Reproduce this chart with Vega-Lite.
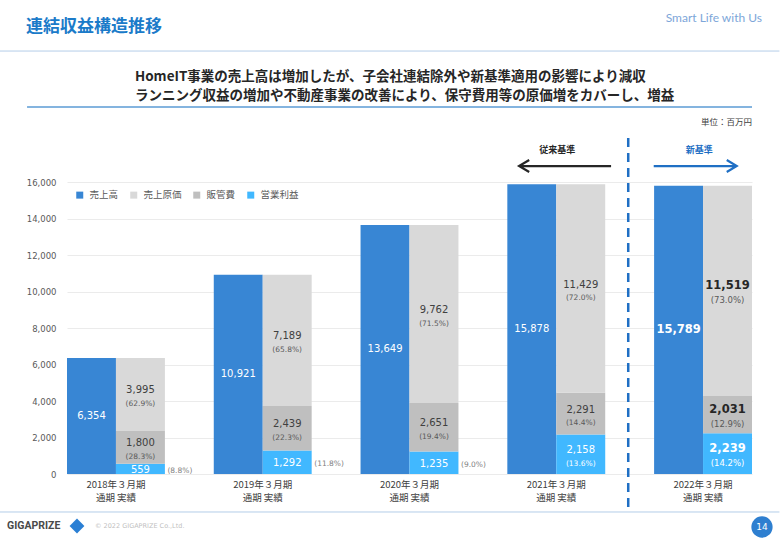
{
  "$schema": "https://vega.github.io/schema/vega-lite/v6.json",
  "width": 685,
  "height": 292,
  "autosize": {"type": "none"},
  "padding": {"left": 67, "top": 182, "right": 28, "bottom": 66},
  "background": "#ffffff",
  "config": {
    "view": {"stroke": null},
    "font": "Noto Sans CJK JP"
  },
  "datasets": {
    "main": [
      {"period": "2018年３月期", "bar": "売上高", "series": "売上高", "value": 6354, "pct": null, "order": 0, "inside": true, "std": "old"},
      {"period": "2018年３月期", "bar": "内訳", "series": "営業利益", "value": 559, "pct": 8.8, "order": 1, "inside": false, "std": "old"},
      {"period": "2018年３月期", "bar": "内訳", "series": "販管費", "value": 1800, "pct": 28.3, "order": 2, "inside": true, "std": "old"},
      {"period": "2018年３月期", "bar": "内訳", "series": "売上原価", "value": 3995, "pct": 62.9, "order": 3, "inside": true, "std": "old"},
      {"period": "2019年３月期", "bar": "売上高", "series": "売上高", "value": 10921, "pct": null, "order": 0, "inside": true, "std": "old"},
      {"period": "2019年３月期", "bar": "内訳", "series": "営業利益", "value": 1292, "pct": 11.8, "order": 1, "inside": false, "std": "old"},
      {"period": "2019年３月期", "bar": "内訳", "series": "販管費", "value": 2439, "pct": 22.3, "order": 2, "inside": true, "std": "old"},
      {"period": "2019年３月期", "bar": "内訳", "series": "売上原価", "value": 7189, "pct": 65.8, "order": 3, "inside": true, "std": "old"},
      {"period": "2020年３月期", "bar": "売上高", "series": "売上高", "value": 13649, "pct": null, "order": 0, "inside": true, "std": "old"},
      {"period": "2020年３月期", "bar": "内訳", "series": "営業利益", "value": 1235, "pct": 9.0, "order": 1, "inside": false, "std": "old"},
      {"period": "2020年３月期", "bar": "内訳", "series": "販管費", "value": 2651, "pct": 19.4, "order": 2, "inside": true, "std": "old"},
      {"period": "2020年３月期", "bar": "内訳", "series": "売上原価", "value": 9762, "pct": 71.5, "order": 3, "inside": true, "std": "old"},
      {"period": "2021年３月期", "bar": "売上高", "series": "売上高", "value": 15878, "pct": null, "order": 0, "inside": true, "std": "old"},
      {"period": "2021年３月期", "bar": "内訳", "series": "営業利益", "value": 2158, "pct": 13.6, "order": 1, "inside": true, "std": "old"},
      {"period": "2021年３月期", "bar": "内訳", "series": "販管費", "value": 2291, "pct": 14.4, "order": 2, "inside": true, "std": "old"},
      {"period": "2021年３月期", "bar": "内訳", "series": "売上原価", "value": 11429, "pct": 72.0, "order": 3, "inside": true, "std": "old"},
      {"period": "2022年３月期", "bar": "売上高", "series": "売上高", "value": 15789, "pct": null, "order": 0, "inside": true, "std": "new"},
      {"period": "2022年３月期", "bar": "内訳", "series": "営業利益", "value": 2239, "pct": 14.2, "order": 1, "inside": true, "std": "new"},
      {"period": "2022年３月期", "bar": "内訳", "series": "販管費", "value": 2031, "pct": 12.9, "order": 2, "inside": true, "std": "new"},
      {"period": "2022年３月期", "bar": "内訳", "series": "売上原価", "value": 11519, "pct": 73.0, "order": 3, "inside": true, "std": "new"}
    ],
    "one": [{}]
  },
  "layer": [
    {
      "data": {"name": "main"},
      "transform": [
        {"stack": "value", "groupby": ["period", "bar"], "sort": [{"field": "order", "order": "ascending"}], "as": ["y0", "y1"]}
      ],
      "mark": {"type": "bar"},
      "encoding": {
        "x": {
          "field": "period", "type": "nominal", "title": null,
          "scale": {"domain": ["2018年３月期", "2019年３月期", "2020年３月期", "2021年３月期", "2022年３月期"], "paddingInner": 0.333, "paddingOuter": 0},
          "axis": {"labelExpr": "[datum.label, '通期 実績']", "labelAngle": 0, "domain": false, "ticks": false, "labelFont": "Noto Sans CJK JP", "labelFontSize": 9.5, "labelColor": "#404040", "labelPadding": 5, "labelLineHeight": 13, "title": null}
        },
        "xOffset": {"field": "bar", "type": "nominal", "scale": {"domain": ["売上高", "内訳"], "paddingInner": 0, "paddingOuter": 0}},
        "y": {
          "field": "y0", "type": "quantitative", "title": null,
          "scale": {"domain": [0, 16000], "nice": false},
          "axis": {"values": [0, 2000, 4000, 6000, 8000, 10000, 12000, 14000, 16000], "labelExpr": "format(datum.value, ',')", "domain": false, "ticks": false, "labelFont": "DejaVu Sans", "labelFontSize": 8.5, "labelColor": "#595959", "labelPadding": 11, "gridColor": "#EBEBEB", "gridWidth": 1, "title": null}
        },
        "y2": {"field": "y1"},
        "color": {
          "field": "series", "type": "nominal",
          "scale": {"domain": ["売上高", "売上原価", "販管費", "営業利益"], "range": ["#3886D4", "#D9D9D9", "#BFBFBF", "#41B8FF"]},
          "legend": {
            "title": null, "orient": "top-left", "direction": "horizontal", "offset": 8,
            "symbolType": "square", "symbolSize": 49, "symbolStrokeWidth": 0,
            "labelFont": "Noto Sans CJK JP", "labelFontSize": 9.5, "labelColor": "#595959",
            "labelOffset": 5, "columnPadding": 10, "padding": 0
          }
        }
      }
    },
    {
      "data": {"name": "main"},
      "transform": [
        {"stack": "value", "groupby": ["period", "bar"], "sort": [{"field": "order", "order": "ascending"}], "as": ["y0", "y1"]},
        {"calculate": "(datum.y0 + datum.y1) / 2", "as": "ymid"},
        {"filter": "datum.bar == '売上高' && datum.std == 'old'"}
      ],
      "mark": {"type": "text", "font": "DejaVu Sans", "fontSize": 10, "color": "#ffffff", "baseline": "middle"},
      "encoding": {
        "x": {"field": "period", "type": "nominal", "title": null, "axis": {"labelExpr": "[datum.label, '通期 実績']", "labelAngle": 0, "domain": false, "ticks": false, "labelFont": "Noto Sans CJK JP", "labelFontSize": 9.5, "labelColor": "#404040", "labelPadding": 5, "labelLineHeight": 13, "title": null}},
        "xOffset": {"field": "bar", "type": "nominal", "scale": {"domain": ["売上高", "内訳"]}},
        "y": {"field": "ymid", "type": "quantitative", "title": null, "axis": {"values": [0, 2000, 4000, 6000, 8000, 10000, 12000, 14000, 16000], "labelExpr": "format(datum.value, ',')", "domain": false, "ticks": false, "labelFont": "DejaVu Sans", "labelFontSize": 8.5, "labelColor": "#595959", "labelPadding": 11, "gridColor": "#EBEBEB", "gridWidth": 1, "title": null}},
        "text": {"field": "value", "type": "quantitative", "format": ","}
      }
    },
    {
      "data": {"name": "main"},
      "transform": [
        {"stack": "value", "groupby": ["period", "bar"], "sort": [{"field": "order", "order": "ascending"}], "as": ["y0", "y1"]},
        {"calculate": "(datum.y0 + datum.y1) / 2", "as": "ymid"},
        {"filter": "datum.bar == '売上高' && datum.std == 'new'"}
      ],
      "mark": {"type": "text", "font": "DejaVu Sans", "fontSize": 11.5, "fontWeight": "bold", "color": "#ffffff", "baseline": "middle"},
      "encoding": {
        "x": {"field": "period", "type": "nominal", "title": null, "axis": {"labelExpr": "[datum.label, '通期 実績']", "labelAngle": 0, "domain": false, "ticks": false, "labelFont": "Noto Sans CJK JP", "labelFontSize": 9.5, "labelColor": "#404040", "labelPadding": 5, "labelLineHeight": 13, "title": null}},
        "xOffset": {"field": "bar", "type": "nominal", "scale": {"domain": ["売上高", "内訳"]}},
        "y": {"field": "ymid", "type": "quantitative", "title": null, "axis": {"values": [0, 2000, 4000, 6000, 8000, 10000, 12000, 14000, 16000], "labelExpr": "format(datum.value, ',')", "domain": false, "ticks": false, "labelFont": "DejaVu Sans", "labelFontSize": 8.5, "labelColor": "#595959", "labelPadding": 11, "gridColor": "#EBEBEB", "gridWidth": 1, "title": null}},
        "text": {"field": "value", "type": "quantitative", "format": ","}
      }
    },
    {
      "data": {"name": "main"},
      "transform": [
        {"stack": "value", "groupby": ["period", "bar"], "sort": [{"field": "order", "order": "ascending"}], "as": ["y0", "y1"]},
        {"calculate": "(datum.y0 + datum.y1) / 2", "as": "ymid"},
        {"filter": "datum.bar == '内訳' && datum.std == 'old' && datum.inside"}
      ],
      "mark": {"type": "text", "font": "DejaVu Sans", "fontSize": 10, "baseline": "middle", "dy": -4},
      "encoding": {
        "x": {"field": "period", "type": "nominal", "title": null, "axis": {"labelExpr": "[datum.label, '通期 実績']", "labelAngle": 0, "domain": false, "ticks": false, "labelFont": "Noto Sans CJK JP", "labelFontSize": 9.5, "labelColor": "#404040", "labelPadding": 5, "labelLineHeight": 13, "title": null}},
        "xOffset": {"field": "bar", "type": "nominal", "scale": {"domain": ["売上高", "内訳"]}},
        "y": {"field": "ymid", "type": "quantitative", "title": null, "axis": {"values": [0, 2000, 4000, 6000, 8000, 10000, 12000, 14000, 16000], "labelExpr": "format(datum.value, ',')", "domain": false, "ticks": false, "labelFont": "DejaVu Sans", "labelFontSize": 8.5, "labelColor": "#595959", "labelPadding": 11, "gridColor": "#EBEBEB", "gridWidth": 1, "title": null}},
        "text": {"field": "value", "type": "quantitative", "format": ","},
        "color": {"condition": {"test": "datum.series == '営業利益'", "value": "#ffffff"}, "value": "#404040"}
      }
    },
    {
      "data": {"name": "main"},
      "transform": [
        {"stack": "value", "groupby": ["period", "bar"], "sort": [{"field": "order", "order": "ascending"}], "as": ["y0", "y1"]},
        {"calculate": "(datum.y0 + datum.y1) / 2", "as": "ymid"},
        {"calculate": "'(' + format(datum.pct, '.1f') + '%)'", "as": "pctLabel"},
        {"filter": "datum.bar == '内訳' && datum.std == 'old' && datum.inside"}
      ],
      "mark": {"type": "text", "font": "DejaVu Sans", "fontSize": 7.5, "baseline": "middle", "dy": 9.5},
      "encoding": {
        "x": {"field": "period", "type": "nominal", "title": null, "axis": {"labelExpr": "[datum.label, '通期 実績']", "labelAngle": 0, "domain": false, "ticks": false, "labelFont": "Noto Sans CJK JP", "labelFontSize": 9.5, "labelColor": "#404040", "labelPadding": 5, "labelLineHeight": 13, "title": null}},
        "xOffset": {"field": "bar", "type": "nominal", "scale": {"domain": ["売上高", "内訳"]}},
        "y": {"field": "ymid", "type": "quantitative", "title": null, "axis": {"values": [0, 2000, 4000, 6000, 8000, 10000, 12000, 14000, 16000], "labelExpr": "format(datum.value, ',')", "domain": false, "ticks": false, "labelFont": "DejaVu Sans", "labelFontSize": 8.5, "labelColor": "#595959", "labelPadding": 11, "gridColor": "#EBEBEB", "gridWidth": 1, "title": null}},
        "text": {"field": "pctLabel", "type": "nominal"},
        "color": {"condition": {"test": "datum.series == '営業利益'", "value": "#ffffff"}, "value": "#595959"}
      }
    },
    {
      "data": {"name": "main"},
      "transform": [
        {"stack": "value", "groupby": ["period", "bar"], "sort": [{"field": "order", "order": "ascending"}], "as": ["y0", "y1"]},
        {"calculate": "(datum.y0 + datum.y1) / 2", "as": "ymid"},
        {"filter": "datum.bar == '内訳' && !datum.inside"}
      ],
      "mark": {"type": "text", "font": "DejaVu Sans", "fontSize": 10, "baseline": "middle", "color": "#ffffff", "dy": 1},
      "encoding": {
        "x": {"field": "period", "type": "nominal", "title": null, "axis": {"labelExpr": "[datum.label, '通期 実績']", "labelAngle": 0, "domain": false, "ticks": false, "labelFont": "Noto Sans CJK JP", "labelFontSize": 9.5, "labelColor": "#404040", "labelPadding": 5, "labelLineHeight": 13, "title": null}},
        "xOffset": {"field": "bar", "type": "nominal", "scale": {"domain": ["売上高", "内訳"]}},
        "y": {"field": "ymid", "type": "quantitative", "title": null, "axis": {"values": [0, 2000, 4000, 6000, 8000, 10000, 12000, 14000, 16000], "labelExpr": "format(datum.value, ',')", "domain": false, "ticks": false, "labelFont": "DejaVu Sans", "labelFontSize": 8.5, "labelColor": "#595959", "labelPadding": 11, "gridColor": "#EBEBEB", "gridWidth": 1, "title": null}},
        "text": {"field": "value", "type": "quantitative", "format": ","}
      }
    },
    {
      "data": {"name": "main"},
      "transform": [
        {"stack": "value", "groupby": ["period", "bar"], "sort": [{"field": "order", "order": "ascending"}], "as": ["y0", "y1"]},
        {"calculate": "(datum.y0 + datum.y1) / 2", "as": "ymid"},
        {"calculate": "'(' + format(datum.pct, '.1f') + '%)'", "as": "pctLabel"},
        {"filter": "datum.bar == '内訳' && !datum.inside"}
      ],
      "mark": {"type": "text", "font": "DejaVu Sans", "fontSize": 7.5, "baseline": "middle", "align": "left", "color": "#7F7F7F", "dx": 27, "dy": 2},
      "encoding": {
        "x": {"field": "period", "type": "nominal", "title": null, "axis": {"labelExpr": "[datum.label, '通期 実績']", "labelAngle": 0, "domain": false, "ticks": false, "labelFont": "Noto Sans CJK JP", "labelFontSize": 9.5, "labelColor": "#404040", "labelPadding": 5, "labelLineHeight": 13, "title": null}},
        "xOffset": {"field": "bar", "type": "nominal", "scale": {"domain": ["売上高", "内訳"]}},
        "y": {"field": "ymid", "type": "quantitative", "title": null, "axis": {"values": [0, 2000, 4000, 6000, 8000, 10000, 12000, 14000, 16000], "labelExpr": "format(datum.value, ',')", "domain": false, "ticks": false, "labelFont": "DejaVu Sans", "labelFontSize": 8.5, "labelColor": "#595959", "labelPadding": 11, "gridColor": "#EBEBEB", "gridWidth": 1, "title": null}},
        "text": {"field": "pctLabel", "type": "nominal"}
      }
    },
    {
      "data": {"name": "main"},
      "transform": [
        {"stack": "value", "groupby": ["period", "bar"], "sort": [{"field": "order", "order": "ascending"}], "as": ["y0", "y1"]},
        {"calculate": "(datum.y0 + datum.y1) / 2", "as": "ymid"},
        {"filter": "datum.bar == '内訳' && datum.std == 'new'"}
      ],
      "mark": {"type": "text", "font": "DejaVu Sans", "fontSize": 11.5, "fontWeight": "bold", "baseline": "middle", "dy": -4.5},
      "encoding": {
        "x": {"field": "period", "type": "nominal", "title": null, "axis": {"labelExpr": "[datum.label, '通期 実績']", "labelAngle": 0, "domain": false, "ticks": false, "labelFont": "Noto Sans CJK JP", "labelFontSize": 9.5, "labelColor": "#404040", "labelPadding": 5, "labelLineHeight": 13, "title": null}},
        "xOffset": {"field": "bar", "type": "nominal", "scale": {"domain": ["売上高", "内訳"]}},
        "y": {"field": "ymid", "type": "quantitative", "title": null, "axis": {"values": [0, 2000, 4000, 6000, 8000, 10000, 12000, 14000, 16000], "labelExpr": "format(datum.value, ',')", "domain": false, "ticks": false, "labelFont": "DejaVu Sans", "labelFontSize": 8.5, "labelColor": "#595959", "labelPadding": 11, "gridColor": "#EBEBEB", "gridWidth": 1, "title": null}},
        "text": {"field": "value", "type": "quantitative", "format": ","},
        "color": {"condition": {"test": "datum.series == '営業利益'", "value": "#ffffff"}, "value": "#262626"}
      }
    },
    {
      "data": {"name": "main"},
      "transform": [
        {"stack": "value", "groupby": ["period", "bar"], "sort": [{"field": "order", "order": "ascending"}], "as": ["y0", "y1"]},
        {"calculate": "(datum.y0 + datum.y1) / 2", "as": "ymid"},
        {"calculate": "'(' + format(datum.pct, '.1f') + '%)'", "as": "pctLabel"},
        {"filter": "datum.bar == '内訳' && datum.std == 'new'"}
      ],
      "mark": {"type": "text", "font": "DejaVu Sans", "fontSize": 8.5, "baseline": "middle", "dy": 9.5},
      "encoding": {
        "x": {"field": "period", "type": "nominal", "title": null, "axis": {"labelExpr": "[datum.label, '通期 実績']", "labelAngle": 0, "domain": false, "ticks": false, "labelFont": "Noto Sans CJK JP", "labelFontSize": 9.5, "labelColor": "#404040", "labelPadding": 5, "labelLineHeight": 13, "title": null}},
        "xOffset": {"field": "bar", "type": "nominal", "scale": {"domain": ["売上高", "内訳"]}},
        "y": {"field": "ymid", "type": "quantitative", "title": null, "axis": {"values": [0, 2000, 4000, 6000, 8000, 10000, 12000, 14000, 16000], "labelExpr": "format(datum.value, ',')", "domain": false, "ticks": false, "labelFont": "DejaVu Sans", "labelFontSize": 8.5, "labelColor": "#595959", "labelPadding": 11, "gridColor": "#EBEBEB", "gridWidth": 1, "title": null}},
        "text": {"field": "pctLabel", "type": "nominal"},
        "color": {"condition": {"test": "datum.series == '営業利益'", "value": "#ffffff"}, "value": "#595959"}
      }
    },
    {
      "data": {"name": "one"},
      "mark": {"type": "rule", "color": "#1F6FC4", "strokeWidth": 2.5, "strokeDash": [9, 6]},
      "encoding": {
        "x": {"datum": "2021年３月期", "bandPosition": 1.235, "axis": {"labelExpr": "[datum.label, '通期 実績']", "labelAngle": 0, "domain": false, "ticks": false, "labelFont": "Noto Sans CJK JP", "labelFontSize": 9.5, "labelColor": "#404040", "labelPadding": 5, "labelLineHeight": 13, "title": null}},
        "y": {"datum": 18410, "axis": {"values": [0, 2000, 4000, 6000, 8000, 10000, 12000, 14000, 16000], "labelExpr": "format(datum.value, ',')", "domain": false, "ticks": false, "labelFont": "DejaVu Sans", "labelFontSize": 8.5, "labelColor": "#595959", "labelPadding": 11, "gridColor": "#EBEBEB", "gridWidth": 1, "title": null}},
        "y2": {"datum": -1972}
      }
    },
    {
      "data": {"name": "one"},
      "mark": {"type": "rule", "color": "#B4CDE8", "strokeWidth": 1},
      "encoding": {
        "x": {"datum": "2018年３月期", "bandPosition": -0.69, "axis": {"labelExpr": "[datum.label, '通期 実績']", "labelAngle": 0, "domain": false, "ticks": false, "labelFont": "Noto Sans CJK JP", "labelFontSize": 9.5, "labelColor": "#404040", "labelPadding": 5, "labelLineHeight": 13, "title": null}},
        "x2": {"datum": "2022年３月期", "bandPosition": 1.28},
        "y": {"datum": 23176, "axis": {"values": [0, 2000, 4000, 6000, 8000, 10000, 12000, 14000, 16000], "labelExpr": "format(datum.value, ',')", "domain": false, "ticks": false, "labelFont": "DejaVu Sans", "labelFontSize": 8.5, "labelColor": "#595959", "labelPadding": 11, "gridColor": "#EBEBEB", "gridWidth": 1, "title": null}}
      }
    },
    {
      "data": {"name": "one"},
      "mark": {"type": "rule", "color": "#B4CDE8", "strokeWidth": 1},
      "encoding": {
        "x": {"datum": "2018年３月期", "bandPosition": -0.69, "axis": {"labelExpr": "[datum.label, '通期 実績']", "labelAngle": 0, "domain": false, "ticks": false, "labelFont": "Noto Sans CJK JP", "labelFontSize": 9.5, "labelColor": "#404040", "labelPadding": 5, "labelLineHeight": 13, "title": null}},
        "x2": {"datum": "2022年３月期", "bandPosition": 1.28},
        "y": {"datum": -2082, "axis": {"values": [0, 2000, 4000, 6000, 8000, 10000, 12000, 14000, 16000], "labelExpr": "format(datum.value, ',')", "domain": false, "ticks": false, "labelFont": "DejaVu Sans", "labelFontSize": 8.5, "labelColor": "#595959", "labelPadding": 11, "gridColor": "#EBEBEB", "gridWidth": 1, "title": null}}
      }
    },
    {
      "data": {"name": "one"},
      "mark": {"type": "rule", "color": "#5B9BD5", "strokeWidth": 1.5},
      "encoding": {
        "x": {"datum": "2018年３月期", "bandPosition": -0.408, "axis": {"labelExpr": "[datum.label, '通期 実績']", "labelAngle": 0, "domain": false, "ticks": false, "labelFont": "Noto Sans CJK JP", "labelFontSize": 9.5, "labelColor": "#404040", "labelPadding": 5, "labelLineHeight": 13, "title": null}},
        "x2": {"datum": "2022年３月期", "bandPosition": 1.0},
        "y": {"datum": 20108, "axis": {"values": [0, 2000, 4000, 6000, 8000, 10000, 12000, 14000, 16000], "labelExpr": "format(datum.value, ',')", "domain": false, "ticks": false, "labelFont": "DejaVu Sans", "labelFontSize": 8.5, "labelColor": "#595959", "labelPadding": 11, "gridColor": "#EBEBEB", "gridWidth": 1, "title": null}}
      }
    },
    {
      "data": {"name": "one"},
      "mark": {"type": "text", "text": "連結収益構造推移", "font": "Noto Sans CJK JP", "fontSize": 17, "fontWeight": "bold", "color": "#1B7BC9", "align": "left", "baseline": "middle"},
      "encoding": {
        "x": {"datum": "2018年３月期", "bandPosition": -0.418, "axis": {"labelExpr": "[datum.label, '通期 実績']", "labelAngle": 0, "domain": false, "ticks": false, "labelFont": "Noto Sans CJK JP", "labelFontSize": 9.5, "labelColor": "#404040", "labelPadding": 5, "labelLineHeight": 13, "title": null}},
        "y": {"datum": 24491, "axis": {"values": [0, 2000, 4000, 6000, 8000, 10000, 12000, 14000, 16000], "labelExpr": "format(datum.value, ',')", "domain": false, "ticks": false, "labelFont": "DejaVu Sans", "labelFontSize": 8.5, "labelColor": "#595959", "labelPadding": 11, "gridColor": "#EBEBEB", "gridWidth": 1, "title": null}}
      }
    },
    {
      "data": {"name": "one"},
      "mark": {"type": "text", "text": "Smart Life with Us", "font": "Lato", "fontSize": 12, "color": "#7DA6D9", "align": "right", "baseline": "middle"},
      "encoding": {
        "x": {"datum": "2022年３月期", "bandPosition": 1.102, "axis": {"labelExpr": "[datum.label, '通期 実績']", "labelAngle": 0, "domain": false, "ticks": false, "labelFont": "Noto Sans CJK JP", "labelFontSize": 9.5, "labelColor": "#404040", "labelPadding": 5, "labelLineHeight": 13, "title": null}},
        "y": {"datum": 24984, "axis": {"values": [0, 2000, 4000, 6000, 8000, 10000, 12000, 14000, 16000], "labelExpr": "format(datum.value, ',')", "domain": false, "ticks": false, "labelFont": "DejaVu Sans", "labelFontSize": 8.5, "labelColor": "#595959", "labelPadding": 11, "gridColor": "#EBEBEB", "gridWidth": 1, "title": null}}
      }
    },
    {
      "data": {"name": "one"},
      "mark": {"type": "text", "text": "HomeIT事業の売上高は増加したが、子会社連結除外や新基準適用の影響により減収", "font": "Noto Sans CJK JP", "fontSize": 13.5, "fontWeight": "bold", "color": "#262626", "align": "left", "baseline": "middle"},
      "encoding": {
        "x": {"datum": "2018年３月期", "bandPosition": 0.694, "axis": {"labelExpr": "[datum.label, '通期 実績']", "labelAngle": 0, "domain": false, "ticks": false, "labelFont": "Noto Sans CJK JP", "labelFontSize": 9.5, "labelColor": "#404040", "labelPadding": 5, "labelLineHeight": 13, "title": null}},
        "y": {"datum": 21752, "axis": {"values": [0, 2000, 4000, 6000, 8000, 10000, 12000, 14000, 16000], "labelExpr": "format(datum.value, ',')", "domain": false, "ticks": false, "labelFont": "DejaVu Sans", "labelFontSize": 8.5, "labelColor": "#595959", "labelPadding": 11, "gridColor": "#EBEBEB", "gridWidth": 1, "title": null}}
      }
    },
    {
      "data": {"name": "one"},
      "mark": {"type": "text", "text": "ランニング収益の増加や不動産事業の改善により、保守費用等の原価増をカバーし、増益", "font": "Noto Sans CJK JP", "fontSize": 13.5, "fontWeight": "bold", "color": "#262626", "align": "left", "baseline": "middle"},
      "encoding": {
        "x": {"datum": "2018年３月期", "bandPosition": 0.694, "axis": {"labelExpr": "[datum.label, '通期 実績']", "labelAngle": 0, "domain": false, "ticks": false, "labelFont": "Noto Sans CJK JP", "labelFontSize": 9.5, "labelColor": "#404040", "labelPadding": 5, "labelLineHeight": 13, "title": null}},
        "y": {"datum": 20711, "axis": {"values": [0, 2000, 4000, 6000, 8000, 10000, 12000, 14000, 16000], "labelExpr": "format(datum.value, ',')", "domain": false, "ticks": false, "labelFont": "DejaVu Sans", "labelFontSize": 8.5, "labelColor": "#595959", "labelPadding": 11, "gridColor": "#EBEBEB", "gridWidth": 1, "title": null}}
      }
    },
    {
      "data": {"name": "one"},
      "mark": {"type": "text", "text": "単位：百万円", "font": "Noto Sans CJK JP", "fontSize": 8.5, "color": "#404040", "align": "right", "baseline": "middle"},
      "encoding": {
        "x": {"datum": "2022年３月期", "bandPosition": 1.0, "axis": {"labelExpr": "[datum.label, '通期 実績']", "labelAngle": 0, "domain": false, "ticks": false, "labelFont": "Noto Sans CJK JP", "labelFontSize": 9.5, "labelColor": "#404040", "labelPadding": 5, "labelLineHeight": 13, "title": null}},
        "y": {"datum": 19286, "axis": {"values": [0, 2000, 4000, 6000, 8000, 10000, 12000, 14000, 16000], "labelExpr": "format(datum.value, ',')", "domain": false, "ticks": false, "labelFont": "DejaVu Sans", "labelFontSize": 8.5, "labelColor": "#595959", "labelPadding": 11, "gridColor": "#EBEBEB", "gridWidth": 1, "title": null}}
      }
    },
    {
      "data": {"name": "one"},
      "mark": {"type": "text", "text": "従来基準", "font": "Noto Sans CJK JP", "fontSize": 9, "fontWeight": "bold", "color": "#262626", "align": "center", "baseline": "middle"},
      "encoding": {
        "x": {"datum": "2021年３月期", "bandPosition": 0.51, "axis": {"labelExpr": "[datum.label, '通期 実績']", "labelAngle": 0, "domain": false, "ticks": false, "labelFont": "Noto Sans CJK JP", "labelFontSize": 9.5, "labelColor": "#404040", "labelPadding": 5, "labelLineHeight": 13, "title": null}},
        "y": {"datum": 17752, "axis": {"values": [0, 2000, 4000, 6000, 8000, 10000, 12000, 14000, 16000], "labelExpr": "format(datum.value, ',')", "domain": false, "ticks": false, "labelFont": "DejaVu Sans", "labelFontSize": 8.5, "labelColor": "#595959", "labelPadding": 11, "gridColor": "#EBEBEB", "gridWidth": 1, "title": null}}
      }
    },
    {
      "data": {"name": "one"},
      "mark": {"type": "text", "text": "新基準", "font": "Noto Sans CJK JP", "fontSize": 9, "fontWeight": "bold", "color": "#1F6FC4", "align": "center", "baseline": "middle"},
      "encoding": {
        "x": {"datum": "2022年３月期", "bandPosition": 0.46, "axis": {"labelExpr": "[datum.label, '通期 実績']", "labelAngle": 0, "domain": false, "ticks": false, "labelFont": "Noto Sans CJK JP", "labelFontSize": 9.5, "labelColor": "#404040", "labelPadding": 5, "labelLineHeight": 13, "title": null}},
        "y": {"datum": 17752, "axis": {"values": [0, 2000, 4000, 6000, 8000, 10000, 12000, 14000, 16000], "labelExpr": "format(datum.value, ',')", "domain": false, "ticks": false, "labelFont": "DejaVu Sans", "labelFontSize": 8.5, "labelColor": "#595959", "labelPadding": 11, "gridColor": "#EBEBEB", "gridWidth": 1, "title": null}}
      }
    },
    {
      "data": {"name": "one"},
      "mark": {"type": "point", "shape": "M1,0L-1,0M-0.78,-0.13L-1,0L-0.78,0.13", "size": 8464, "filled": false, "stroke": "#262626", "strokeWidth": 2.2, "opacity": 1},
      "encoding": {
        "x": {"datum": "2021年３月期", "bandPosition": 0.59, "axis": {"labelExpr": "[datum.label, '通期 実績']", "labelAngle": 0, "domain": false, "ticks": false, "labelFont": "Noto Sans CJK JP", "labelFontSize": 9.5, "labelColor": "#404040", "labelPadding": 5, "labelLineHeight": 13, "title": null}},
        "y": {"datum": 16875, "axis": {"values": [0, 2000, 4000, 6000, 8000, 10000, 12000, 14000, 16000], "labelExpr": "format(datum.value, ',')", "domain": false, "ticks": false, "labelFont": "DejaVu Sans", "labelFontSize": 8.5, "labelColor": "#595959", "labelPadding": 11, "gridColor": "#EBEBEB", "gridWidth": 1, "title": null}}
      }
    },
    {
      "data": {"name": "one"},
      "mark": {"type": "point", "shape": "M-1,0L1,0M0.76,-0.145L1,0L0.76,0.145", "size": 6889, "filled": false, "stroke": "#1F6FC4", "strokeWidth": 2.2, "opacity": 1},
      "encoding": {
        "x": {"datum": "2022年３月期", "bandPosition": 0.42, "axis": {"labelExpr": "[datum.label, '通期 実績']", "labelAngle": 0, "domain": false, "ticks": false, "labelFont": "Noto Sans CJK JP", "labelFontSize": 9.5, "labelColor": "#404040", "labelPadding": 5, "labelLineHeight": 13, "title": null}},
        "y": {"datum": 16875, "axis": {"values": [0, 2000, 4000, 6000, 8000, 10000, 12000, 14000, 16000], "labelExpr": "format(datum.value, ',')", "domain": false, "ticks": false, "labelFont": "DejaVu Sans", "labelFontSize": 8.5, "labelColor": "#595959", "labelPadding": 11, "gridColor": "#EBEBEB", "gridWidth": 1, "title": null}}
      }
    },
    {
      "data": {"name": "one"},
      "mark": {"type": "text", "text": "GIGAPRIZE", "font": "Roboto", "fontSize": 10.5, "fontWeight": "bold", "color": "#4A4A4A", "align": "left", "baseline": "middle"},
      "encoding": {
        "x": {"datum": "2018年３月期", "bandPosition": -0.612, "axis": {"labelExpr": "[datum.label, '通期 実績']", "labelAngle": 0, "domain": false, "ticks": false, "labelFont": "Noto Sans CJK JP", "labelFontSize": 9.5, "labelColor": "#404040", "labelPadding": 5, "labelLineHeight": 13, "title": null}},
        "y": {"datum": -2849, "axis": {"values": [0, 2000, 4000, 6000, 8000, 10000, 12000, 14000, 16000], "labelExpr": "format(datum.value, ',')", "domain": false, "ticks": false, "labelFont": "DejaVu Sans", "labelFontSize": 8.5, "labelColor": "#595959", "labelPadding": 11, "gridColor": "#EBEBEB", "gridWidth": 1, "title": null}}
      }
    },
    {
      "data": {"name": "one"},
      "mark": {"type": "point", "shape": "diamond", "size": 220, "filled": true, "color": "#2A7FD4", "opacity": 1},
      "encoding": {
        "x": {"datum": "2018年３月期", "bandPosition": 0.102, "axis": {"labelExpr": "[datum.label, '通期 実績']", "labelAngle": 0, "domain": false, "ticks": false, "labelFont": "Noto Sans CJK JP", "labelFontSize": 9.5, "labelColor": "#404040", "labelPadding": 5, "labelLineHeight": 13, "title": null}},
        "y": {"datum": -2849, "axis": {"values": [0, 2000, 4000, 6000, 8000, 10000, 12000, 14000, 16000], "labelExpr": "format(datum.value, ',')", "domain": false, "ticks": false, "labelFont": "DejaVu Sans", "labelFontSize": 8.5, "labelColor": "#595959", "labelPadding": 11, "gridColor": "#EBEBEB", "gridWidth": 1, "title": null}}
      }
    },
    {
      "data": {"name": "one"},
      "mark": {"type": "text", "text": "© 2022 GIGAPRIZE Co.,Ltd.", "font": "DejaVu Sans", "fontSize": 6.5, "color": "#BFBFBF", "align": "left", "baseline": "middle"},
      "encoding": {
        "x": {"datum": "2018年３月期", "bandPosition": 0.286, "axis": {"labelExpr": "[datum.label, '通期 実績']", "labelAngle": 0, "domain": false, "ticks": false, "labelFont": "Noto Sans CJK JP", "labelFontSize": 9.5, "labelColor": "#404040", "labelPadding": 5, "labelLineHeight": 13, "title": null}},
        "y": {"datum": -2849, "axis": {"values": [0, 2000, 4000, 6000, 8000, 10000, 12000, 14000, 16000], "labelExpr": "format(datum.value, ',')", "domain": false, "ticks": false, "labelFont": "DejaVu Sans", "labelFontSize": 8.5, "labelColor": "#595959", "labelPadding": 11, "gridColor": "#EBEBEB", "gridWidth": 1, "title": null}}
      }
    },
    {
      "data": {"name": "one"},
      "mark": {"type": "point", "shape": "circle", "size": 452, "filled": true, "color": "#2E7FD0", "opacity": 1},
      "encoding": {
        "x": {"datum": "2022年３月期", "bandPosition": 1.102, "axis": {"labelExpr": "[datum.label, '通期 実績']", "labelAngle": 0, "domain": false, "ticks": false, "labelFont": "Noto Sans CJK JP", "labelFontSize": 9.5, "labelColor": "#404040", "labelPadding": 5, "labelLineHeight": 13, "title": null}},
        "y": {"datum": -2904, "axis": {"values": [0, 2000, 4000, 6000, 8000, 10000, 12000, 14000, 16000], "labelExpr": "format(datum.value, ',')", "domain": false, "ticks": false, "labelFont": "DejaVu Sans", "labelFontSize": 8.5, "labelColor": "#595959", "labelPadding": 11, "gridColor": "#EBEBEB", "gridWidth": 1, "title": null}}
      }
    },
    {
      "data": {"name": "one"},
      "mark": {"type": "text", "text": "14", "font": "DejaVu Sans", "fontSize": 9, "color": "#ffffff", "align": "center", "baseline": "middle"},
      "encoding": {
        "x": {"datum": "2022年３月期", "bandPosition": 1.102, "axis": {"labelExpr": "[datum.label, '通期 実績']", "labelAngle": 0, "domain": false, "ticks": false, "labelFont": "Noto Sans CJK JP", "labelFontSize": 9.5, "labelColor": "#404040", "labelPadding": 5, "labelLineHeight": 13, "title": null}},
        "y": {"datum": -2904, "axis": {"values": [0, 2000, 4000, 6000, 8000, 10000, 12000, 14000, 16000], "labelExpr": "format(datum.value, ',')", "domain": false, "ticks": false, "labelFont": "DejaVu Sans", "labelFontSize": 8.5, "labelColor": "#595959", "labelPadding": 11, "gridColor": "#EBEBEB", "gridWidth": 1, "title": null}}
      }
    }
  ]
}
